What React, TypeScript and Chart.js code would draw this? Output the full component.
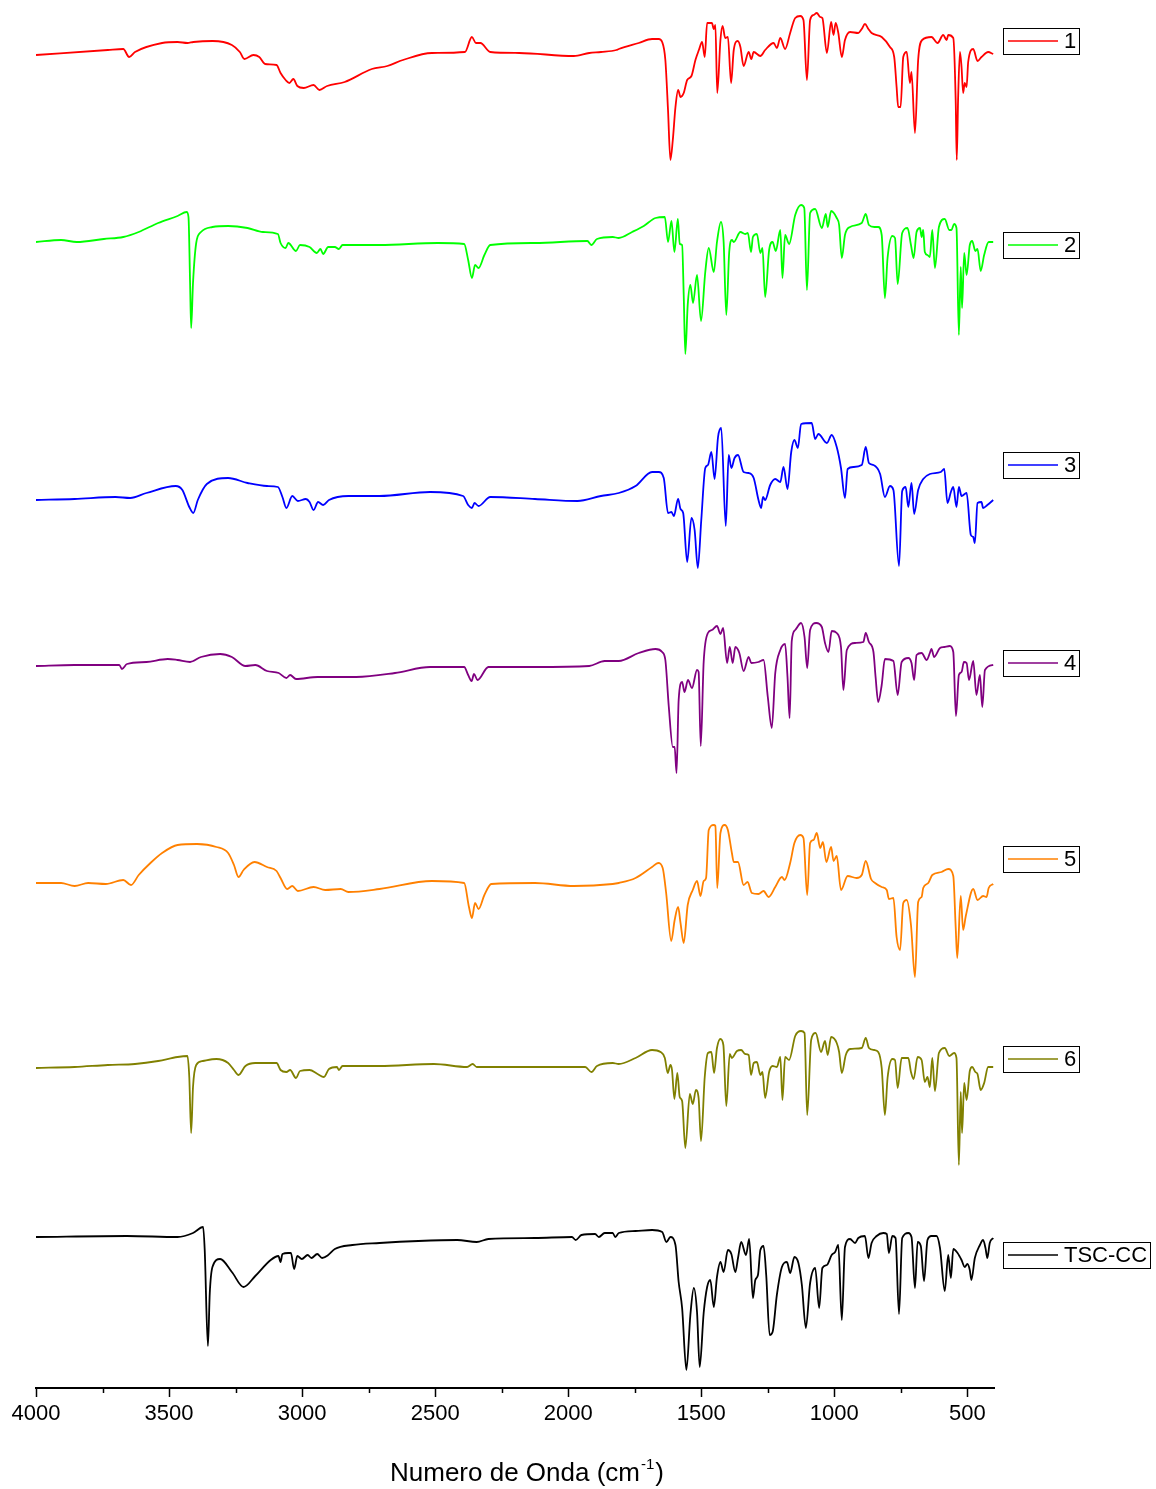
import React, { useEffect, useRef } from "react";
import { Chart, registerables } from "chart.js";

Chart.register(...registerables);

// ---------- data ----------
const seriesLabels = ["1", "2", "3", "4", "5", "6", "TSC-CC"];
const seriesColors = ["#FF0000", "#00FF00", "#0000FF", "#800080", "#FF8000", "#808000", "#000000"];
// vertical stacking offsets of each spectrum (arbitrary transmittance units)
const seriesOffsets = [1333, 1146, 888, 722, 505, 320, 151];
const xTickValues = [500, 750, 1000, 1250, 1500, 1750, 2000, 2250, 2500, 2750, 3000, 3250, 3500, 3750, 4000];

const wn1 = [4000,3730,3672,3650,3628,3526,3468,3431,3409,3336,3264,3234,3217,3183,3161,3139,3096,3081,3062,3048,3033,3018,2994,2957,2935,2906,2840,2738,2680,2621,2512,2388,2362,2347,2330,2293,2184,1979,1921,1877,1819,
  1810,1735,1685,1660,1647,1635,1625,1616,1607,1597,1587,1578,1566,1553,1537,1522,1509,1497,1487,1478,1460,1453,1447,1440,1428,1420,1410,1400,1388,1378,1363,1353,1341,1322,1312,1303,1278,1260,1228,1216,1203,1185,1166,1147,1128,1116,1103,1091,1078,1066,1053,1045,1028,1012,1003,995,985,972,960,941,910,897,885,872,860,822,791,775,766,760,751,741,728,716,710,697,685,670,635,612,591,578,572,553,544,540,535,528,522,516,510,503,497,478,462,447,422,403];
const t1 = [0,5,6,-2,3,12,13,12,13,14,10,3,-4,0,-2,-9,-10,-18,-25,-28,-24,-31,-33,-30,-35,-31,-27,-14,-11,-5,2,3,18,12,12,3,2,-1,2,3,5,
  6,12,16,16,13,-5,-55,-105,-85,-52,-35,-42,-38,-25,-21,-5,5,13,-2,32,32,26,30,-38,15,29,17,18,-28,5,14,8,-11,3,-4,3,-1,5,12,7,17,6,22,37,39,35,-25,35,40,42,38,37,2,33,20,32,22,-2,15,23,22,26,31,26,22,18,8,-2,-32,-52,-52,-2,3,-28,-17,-78,-5,15,18,12,20,15,20,17,-45,-105,-45,3,-12,-38,-28,-32,-7,6,-6,-2,3,1];

const wn2 = [4000,3906,3847,3745,3672,3614,3541,3468,3434,3427,3421,3417,3410,3398,3380,3337,3278,3205,3147,3091,3081,3062,3052,3023,3008,2972,2945,2931,2921,2902,2877,2862,2848,2709,2490,2391,2376,2362,2350,2337,2315,2293,2125,1928,1913,1892,1833,
  1810,1760,1716,1672,1637,1625,1612,1601,1588,1581,1572,1566,1560,1551,1541,1531,1516,1501,1485,1472,1453,1441,1426,1416,1406,1395,1385,1378,1353,1335,1325,1313,1306,1291,1278,1270,1260,1245,1232,1220,1203,1195,1185,1170,1147,1125,1113,1103,1091,1072,1047,1032,1025,1012,991,982,972,960,941,897,882,870,850,835,822,810,800,782,772,762,745,725,712,702,691,678,672,666,660,650,641,632,622,607,585,568,560,550,541,532,525,520,512,503,491,482,470,462,450,437,420,403];
const t2 = [0,2,0,3,5,10,19,26,30,25,-41,-86,-41,-1,10,15,16,14,10,8,-1,-6,-1,-9,-3,-5,-11,-7,-12,-5,-5,-7,-3,-3,-1,-2,-18,-36,-23,-26,-13,-3,-1,1,-3,3,5,
  4,10,16,24,25,0,21,-10,23,-2,-3,-53,-112,-63,-43,-61,-33,-79,-30,-6,-30,0,20,0,-73,-10,2,0,10,8,9,-10,5,8,-11,-6,-55,-8,0,-9,12,-36,7,-2,27,37,34,-48,29,33,14,28,15,31,24,17,-16,7,15,19,28,17,15,15,7,-56,-16,6,4,-42,9,14,-3,-16,10,14,5,12,-10,-13,-15,12,-26,15,23,12,12,18,14,-93,-25,-66,-11,-33,-3,1,-9,-7,-29,-13,0,0];

const wn3 = [4000,3855,3701,3646,3585,3475,3450,3424,3409,3392,3358,3278,3205,3132,3091,3074,3059,3037,3016,2986,2972,2957,2940,2921,2899,2826,2709,2519,2395,2376,2362,2352,2337,2293,2125,1965,1877,
  1810,1747,1685,1660,1641,1625,1612,1603,1587,1578,1568,1553,1537,1525,1513,1500,1485,1475,1462,1450,1437,1425,1408,1397,1387,1375,1362,1341,1322,1303,1285,1275,1268,1260,1241,1222,1203,1191,1176,1162,1150,1137,1125,1085,1072,1060,1028,1010,991,975,960,950,928,897,882,870,853,828,810,791,778,757,745,732,722,710,700,685,666,641,600,587,575,562,553,541,532,522,503,487,478,472,462,447,441,425,403];
const t3 = [0,1,3,2,7,14,10,-7,-13,0,16,22,17,14,13,3,-8,4,-1,1,-2,-10,-2,-5,0,4,4,8,4,-5,-8,-3,-6,3,1,-1,4,
  7,14,28,28,22,-13,-12,-16,1,-9,-13,-62,-18,-30,-68,-20,32,35,48,21,63,72,-26,45,32,42,45,28,27,22,0,-8,3,0,15,21,18,33,11,48,60,52,76,77,61,66,57,65,53,32,2,31,33,35,53,37,35,26,3,14,10,-66,9,13,-7,17,-14,10,21,26,28,31,-3,8,13,-7,13,4,7,-35,-37,-43,-3,-2,-8,-5,0];

const wn4 = [4000,3855,3687,3677,3658,3585,3505,3468,3421,3380,3308,3264,3213,3176,3132,3088,3059,3045,3023,2942,2797,2651,2519,2391,2376,2363,2354,2341,2300,2125,1921,1863,
  1810,1735,1672,1647,1635,1622,1607,1600,1593,1585,1572,1563,1550,1535,1516,1510,1502,1491,1475,1460,1441,1428,1418,1403,1393,1382,1372,1357,1341,1322,1312,1285,1266,1250,1235,1222,1203,1185,1176,1168,1160,1147,1125,1112,1102,1091,1068,1047,1035,1022,1010,991,975,966,953,922,891,882,870,853,845,835,822,810,778,762,747,722,710,700,691,672,653,641,635,625,603,587,566,553,543,532,522,513,503,494,478,466,453,444,434,403];
const t4 = [0,1,1,-3,2,4,7,6,4,9,12,9,0,1,-5,-7,-12,-9,-13,-11,-11,-7,-1,-1,-9,-15,-8,-14,-1,-1,0,5,
  5,13,17,14,6,-41,-81,-81,-107,-34,-16,-26,-14,-22,-4,-6,-80,4,33,36,40,32,38,3,19,3,19,13,-5,9,3,4,6,-31,-62,-7,16,22,-11,-52,25,36,43,29,-2,36,43,39,23,14,35,33,19,-24,16,23,24,33,24,14,-11,-36,-19,7,5,-29,4,8,3,-14,11,13,6,13,17,9,18,19,20,14,-50,-9,-6,4,3,-14,5,-29,-9,-41,-4,1];

const wn5 = [4000,3906,3855,3804,3738,3672,3643,3614,3570,3526,3468,3395,3322,3278,3256,3239,3220,3179,3132,3096,3081,3056,3037,3016,2957,2913,2855,2826,2709,2512,2391,2373,2362,2350,2337,2315,2289,2125,1979,1833,
  1810,1747,1685,1662,1645,1632,1613,1600,1587,1578,1566,1551,1532,1516,1503,1491,1482,1472,1453,1447,1440,1428,1412,1400,1385,1378,1362,1341,1326,1310,1285,1266,1247,1222,1197,1187,1166,1150,1128,1116,1102,1091,1078,1066,1053,1043,1030,1012,1003,991,975,950,916,897,882,862,847,822,803,795,778,766,753,741,728,712,697,685,672,666,647,632,597,572,553,544,538,525,516,506,478,462,441,428,420,403];
const t5 = [0,0,-3,0,-1,3,-2,8,20,30,38,39,36,30,18,6,13,21,16,12,5,-6,-3,-8,-4,-7,-6,-9,-6,2,0,-24,-35,-20,-26,-12,-1,0,-3,-1,
  0,5,16,20,15,-10,-58,-37,-24,-40,-60,-22,-7,2,-13,2,5,53,58,57,-5,50,58,53,30,21,21,-2,1,-10,-11,-8,-14,-4,6,3,20,40,48,45,-12,40,43,50,35,41,21,36,22,27,-7,7,5,8,22,4,0,-4,-7,-16,-15,-54,-67,-20,-17,-42,-94,-19,-14,-5,0,8,11,14,7,-44,-75,-13,-47,-33,-6,-17,-13,-14,-5,-1];

const wn6 = [4000,3855,3730,3628,3541,3468,3431,3424,3417,3410,3398,3373,3322,3278,3256,3239,3213,3176,3096,3081,3059,3045,3023,3008,2972,2942,2918,2899,2869,2862,2848,2709,2505,2380,2359,2344,2198,1936,1913,1892,1833,
  1810,1747,1685,1653,1637,1626,1616,1610,1601,1590,1581,1572,1560,1543,1532,1520,1510,1501,1487,1475,1462,1452,1441,1428,1417,1406,1393,1385,1366,1350,1335,1322,1313,1303,1291,1278,1270,1260,1245,1232,1216,1203,1195,1185,1170,1147,1125,1112,1102,1087,1070,1050,1035,1025,1012,991,982,972,957,941,897,882,870,850,835,822,810,800,782,772,762,747,722,712,702,687,672,660,650,641,632,622,607,585,568,550,541,532,525,520,512,503,491,482,470,462,450,437,422,403];
const t6 = [0,1,3,4,7,11,12,-9,-65,-19,3,7,9,5,-2,-7,2,5,5,-2,-4,-2,-10,-3,-2,-6,-9,-1,1,-2,2,2,4,1,4,1,1,1,-4,2,5,
  4,10,18,16,10,-5,3,-2,-31,-5,-29,-33,-80,-26,-36,-22,-30,-73,-9,15,16,-5,20,29,23,-38,14,10,17,18,14,13,-7,5,6,-7,-4,-30,-4,2,1,11,-32,11,8,32,37,35,-47,28,35,16,27,13,31,25,16,-5,13,19,20,30,20,18,16,0,-47,-10,9,8,-20,10,10,-4,-11,11,8,-14,-9,-19,10,-23,15,20,12,15,10,-97,-24,-65,-15,-32,-3,1,-4,-6,-22,-15,1,1];

const wn7 = [4000,3658,3468,3410,3372,3366,3354,3347,3337,3308,3264,3220,3176,3118,3089,3081,3074,3052,3042,3030,3018,3001,2979,2965,2943,2925,2902,2877,2811,2709,2563,2417,2344,2300,2125,1986,1972,1950,1899,1885,1863,1833,1823,
  1810,1747,1685,1647,1631,1616,1597,1585,1572,1556,1541,1528,1516,1506,1491,1478,1466,1453,1441,1428,1416,1400,1387,1372,1362,1350,1332,1320,1306,1297,1287,1278,1266,1256,1243,1232,1216,1197,1178,1166,1150,1135,1122,1107,1091,1072,1057,1045,1028,1010,997,985,972,960,941,922,910,885,872,860,841,816,803,795,782,770,757,745,722,710,697,687,675,663,650,635,616,603,585,572,562,553,537,522,510,500,491,485,472,453,441,432,425,416,403];
const t7 = [0,1,0,4,10,-13,-109,-56,-30,-22,-35,-50,-39,-23,-19,-25,-17,-16,-16,-32,-19,-22,-18,-21,-17,-21,-18,-12,-8,-6,-4,-3,-5,-2,-1,0,-3,2,3,0,4,4,0,
  4,6,7,5,-5,0,-8,-45,-71,-133,-78,-51,-75,-130,-76,-50,-43,-70,-40,-25,-35,-13,-17,-35,-21,-5,-18,-2,-61,-43,-38,-13,-9,-38,-98,-95,-58,-30,-25,-36,-20,-26,-48,-91,-46,-31,-71,-31,-28,-18,-15,-8,-83,-10,-2,-6,-1,1,-21,-6,1,4,3,-16,1,-1,-77,-1,4,0,-51,-5,-9,-44,-3,1,1,-11,-54,-18,-41,-12,-16,-23,-30,-27,-33,-43,-21,-8,-3,-11,-21,-6,-1];

const wavenumbers = [wn1, wn2, wn3, wn4, wn5, wn6, wn7];
const transmittances = [t1, t2, t3, t4, t5, t6, t7];

// ---------- layout / style ----------
const W = 1156;
const H = 1489;
const FONT = '"Liberation Sans", Arial, Helvetica, sans-serif';
const legendCenters = [41, 245, 465, 663, 859, 1059, 1255];

function buildPoints(wn: number[], t: number[], off: number) {
  const n = Math.min(wn.length, t.length);
  const pts: { x: number; y: number }[] = [];
  for (let i = 0; i < n; i++) pts.push({ x: wn[i], y: t[i] + off });
  pts.sort((a, b) => a.x - b.x);
  return pts;
}

const decorPlugin = {
  id: "decor",
  afterDraw(chart: any) {
    const ctx = chart.ctx as CanvasRenderingContext2D;
    const xs = chart.scales.x;
    const area = chart.chartArea;
    ctx.save();
    // tick marks
    ctx.strokeStyle = "#000";
    ctx.lineWidth = 1.5;
    xTickValues.forEach((v) => {
      const px = Math.round(xs.getPixelForValue(v)) + 0.5;
      const len = v % 500 === 0 ? 9 : 5;
      ctx.beginPath();
      ctx.moveTo(px, area.bottom);
      ctx.lineTo(px, area.bottom + len);
      ctx.stroke();
    });
    // legend boxes
    ctx.font = `22px ${FONT}`;
    ctx.textBaseline = "middle";
    chart.data.datasets.forEach((ds: any, i: number) => {
      const cy = legendCenters[i];
      const label = ds.label as string;
      const tw = ctx.measureText(label).width;
      const left = 1003.5;
      const textX = 1064;
      const right = Math.max(1078.5, Math.round(textX + tw + 3) + 0.5);
      const top = Math.round(cy - 13) + 0.5;
      ctx.fillStyle = "#fff";
      ctx.fillRect(left, top, right - left, 26);
      ctx.strokeStyle = "#000";
      ctx.lineWidth = 1;
      ctx.strokeRect(left, top, right - left, 26);
      ctx.strokeStyle = ds.borderColor;
      ctx.lineWidth = 1.5;
      ctx.beginPath();
      ctx.moveTo(1008, cy);
      ctx.lineTo(1058, cy);
      ctx.stroke();
      ctx.fillStyle = "#000";
      ctx.textAlign = "left";
      ctx.fillText(label, textX, cy + 1);
    });
    // axis title with superscript
    const main = "Numero de Onda (cm";
    const sup = "-1";
    const close = ")";
    ctx.textBaseline = "alphabetic";
    ctx.font = `26px ${FONT}`;
    const w1 = ctx.measureText(main).width;
    const w3 = ctx.measureText(close).width;
    ctx.font = `15px ${FONT}`;
    const w2 = ctx.measureText(sup).width;
    const total = w1 + w2 + w3 + 2;
    const cx = 527;
    const x0 = cx - total / 2;
    const base = 1481;
    ctx.fillStyle = "#000";
    ctx.textAlign = "left";
    ctx.font = `26px ${FONT}`;
    ctx.fillText(main, x0, base);
    ctx.font = `15px ${FONT}`;
    ctx.fillText(sup, x0 + w1 + 1, base - 12);
    ctx.font = `26px ${FONT}`;
    ctx.fillText(close, x0 + w1 + w2 + 2, base);
    ctx.restore();
  },
};

export default function App() {
  const ref = useRef<HTMLCanvasElement | null>(null);
  useEffect(() => {
    if (!ref.current) return;
    const datasets = seriesLabels.map((label, i) => ({
      label,
      data: buildPoints(wavenumbers[i], transmittances[i], seriesOffsets[i]),
      borderColor: seriesColors[i],
      backgroundColor: seriesColors[i],
      borderWidth: 1.8,
      pointRadius: 0,
      fill: false,
      cubicInterpolationMode: "monotone" as const,
    }));
    const chart = new Chart(ref.current, {
      type: "line",
      data: { datasets },
      options: {
        responsive: false,
        animation: false,
        devicePixelRatio: 1,
        layout: { padding: { left: 36, right: 162, top: 0, bottom: 0 } },
        plugins: {
          legend: { display: false },
          tooltip: { enabled: false },
          title: { display: false },
        },
        scales: {
          x: {
            type: "linear",
            reverse: true,
            min: 400,
            max: 4000,
            afterBuildTicks: (s: any) => {
              s.ticks = xTickValues.map((v) => ({ value: v }));
            },
            afterFit: (s: any) => {
              s.height = 101;
            },
            ticks: {
              autoSkip: false,
              maxRotation: 0,
              padding: 13,
              color: "#000",
              font: { family: FONT, size: 22 },
              callback: (v: any) => (Number(v) % 500 === 0 ? String(v) : ""),
            },
            grid: { display: true, drawOnChartArea: false, drawTicks: false },
            border: { display: true, color: "#000", width: 2 },
          },
          y: { type: "linear", display: false, min: 0, max: 1388 },
        },
      },
      plugins: [decorPlugin],
    });
    return () => chart.destroy();
  }, []);
  return (
    <div style={{ position: "absolute", left: 0, top: 0, width: W, height: H, background: "#fff" }}>
      <canvas ref={ref} width={W} height={H} style={{ display: "block", width: W, height: H }} />
    </div>
  );
}
